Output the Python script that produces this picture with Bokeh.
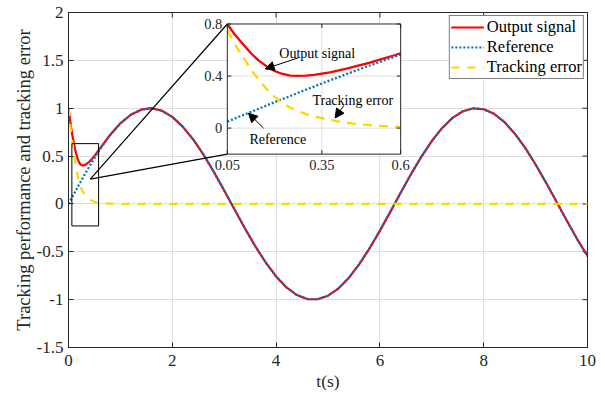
import math
from bokeh.plotting import figure
from bokeh.models import Range1d, FixedTicker, Arrow, NormalHead
from bokeh.core.properties import value
from bokeh.embed import file_html
from bokeh.resources import INLINE

# ---------------- data ----------------
T = [0, 0.025, 0.05, 0.075, 0.1, 0.125, 0.15, 0.175, 0.2, 0.225, 0.25, 0.275, 0.3,
     0.325, 0.35, 0.375, 0.4, 0.425, 0.45, 0.475, 0.5, 0.525, 0.55, 0.575, 0.6,
     0.8, 1.0, 1.2, 1.4, 1.6, 1.8, 2.0, 2.2, 2.4, 2.6, 2.8, 3.0, 3.2, 3.4, 3.6, 3.8,
     4.0, 4.2, 4.4, 4.6, 4.8, 5.0, 5.2, 5.4, 5.6, 5.8, 6.0, 6.2, 6.4, 6.6, 6.8, 7.0,
     7.2, 7.4, 7.6, 7.8, 8.0, 8.2, 8.4, 8.6, 8.8, 9.0, 9.2, 9.4, 9.6, 9.8, 10.0]

REFERENCE = [0.000, 0.025, 0.050, 0.075, 0.100, 0.125, 0.149, 0.174, 0.199, 0.223, 0.247,
             0.272, 0.296, 0.319, 0.343, 0.366, 0.389, 0.412, 0.435, 0.457, 0.479, 0.501,
             0.523, 0.544, 0.565,
             0.717, 0.841, 0.932, 0.985, 1.000, 0.974, 0.909, 0.808, 0.676, 0.516, 0.335,
             0.141, -0.058, -0.256, -0.443, -0.612, -0.757, -0.872, -0.952, -0.994, -0.996,
             -0.959, -0.884, -0.773, -0.631, -0.465, -0.279, -0.083, 0.117, 0.312, 0.494,
             0.657, 0.794, 0.899, 0.968, 0.999, 0.989, 0.941, 0.855, 0.734, 0.585, 0.412,
             0.223, 0.025, -0.174, -0.367, -0.544]

OUTPUT = [1.000, 0.895, 0.800, 0.715, 0.645, 0.575, 0.519, 0.474, 0.439, 0.416, 0.404,
          0.402, 0.404, 0.409, 0.419, 0.429, 0.441, 0.455, 0.470, 0.486, 0.502, 0.520,
          0.538, 0.556, 0.575,
          0.720, 0.842, 0.932, 0.985, 1.000, 0.974, 0.909, 0.808, 0.676, 0.516, 0.335,
          0.141, -0.058, -0.256, -0.443, -0.612, -0.757, -0.872, -0.952, -0.994, -0.996,
          -0.959, -0.884, -0.773, -0.631, -0.465, -0.279, -0.083, 0.117, 0.312, 0.494,
          0.657, 0.794, 0.899, 0.968, 0.999, 0.989, 0.941, 0.855, 0.734, 0.585, 0.412,
          0.223, 0.025, -0.174, -0.367, -0.544]

ERROR = [1.000, 0.870, 0.750, 0.640, 0.545, 0.450, 0.370, 0.300, 0.240, 0.193, 0.157,
         0.130, 0.108, 0.090, 0.076, 0.063, 0.052, 0.043, 0.035, 0.029, 0.023, 0.019,
         0.015, 0.012, 0.010,
         0.003, 0.001, 0.0, 0.0, 0.0, 0.0, 0.0, 0.0, 0.0, 0.0, 0.0, 0.0, 0.0, 0.0, 0.0,
         0.0, 0.0, 0.0, 0.0, 0.0, 0.0, 0.0, 0.0, 0.0, 0.0, 0.0, 0.0, 0.0, 0.0, 0.0, 0.0,
         0.0, 0.0, 0.0, 0.0, 0.0, 0.0, 0.0, 0.0, 0.0, 0.0, 0.0, 0.0, 0.0, 0.0, 0.0, 0.0]

assert len(T) == len(REFERENCE) == len(OUTPUT) == len(ERROR)

SERIES_NAMES = ["Output signal", "Reference", "Tracking error"]
X_TICKS = [0, 2, 4, 6, 8, 10]
X_TICK_LABELS = ["0", "2", "4", "6", "8", "10"]
Y_TICKS = [-1.5, -1, -0.5, 0, 0.5, 1, 1.5, 2]
Y_TICK_LABELS = ["-1.5", "-1", "-0.5", "0", "0.5", "1", "1.5", "2"]
X_LABEL = "t(s)"
Y_LABEL = "Tracking performance and tracking error"

# inset (zoomed) view
INSET_X = [0.05, 0.6]
INSET_Y = [-0.2, 0.8]
INSET_X_TICKS = [0.05, 0.35, 0.6]
INSET_X_TICK_LABELS = ["0.05", "0.35", "0.6"]
INSET_Y_TICKS = [0, 0.4, 0.8]
INSET_Y_TICK_LABELS = ["0", "0.4", "0.8"]
INSET_X_GRID = [0.35]
INSET_Y_GRID = [0, 0.4]

# inset annotations (inset coordinates)
NOTE_TEXT = ["Output signal", "Tracking error", "Reference"]
NOTE_X = [0.215, 0.32, 0.12]
NOTE_Y = [0.575, 0.215, -0.09]
ARROW_X0 = [0.275, 0.42, 0.165]
ARROW_Y0 = [0.54, 0.175, 0.0]
ARROW_X1 = [0.17, 0.392, 0.117]
ARROW_Y1 = [0.455, 0.078, 0.115]

# ---------------- layout (main-axis coordinates) ----------------
INSET_BOX_X = [3.06, 6.40]    # where the inset sits on the main axes
INSET_BOX_Y = [0.52, 1.88]
ZOOM_RECT_X = [0.065, 0.58]
ZOOM_RECT_Y = [-0.23, 0.63]
ZOOM_ANCHOR = (0.42, 0.26)

FONT = "Liberation Serif"
TXT = "#262626"
GRID = "#dfdfdf"
RED = "#ff0000"
BLUE = "#0072bd"
GOLD = "#ffd700"

XR = (0, 10)
YR = (-1.5, 2)

p = figure(width=597, height=396, x_range=Range1d(*XR), y_range=Range1d(*YR),
           output_backend="svg", toolbar_location=None,
           min_border_left=68, min_border_right=10, min_border_top=12, min_border_bottom=49)
p.background_fill_color = "white"
p.border_fill_color = "white"
p.outline_line_color = TXT
p.outline_line_width = 1

# extra ranges so that inset data map into the inset box
def extra_range(a, b, A, B, lo, hi):
    s = (b - a) / (B - A)
    return Range1d(a + (lo - A) * s, a + (hi - A) * s)

p.extra_x_ranges = {"ix": extra_range(INSET_X[0], INSET_X[1], INSET_BOX_X[0], INSET_BOX_X[1], *XR)}
p.extra_y_ranges = {"iy": extra_range(INSET_Y[0], INSET_Y[1], INSET_BOX_Y[0], INSET_BOX_Y[1], *YR)}

# axes
for ax in (p.xaxis[0], p.yaxis[0]):
    ax.major_label_text_font = FONT
    ax.major_label_text_font_size = "17px"
    ax.major_label_text_color = TXT
    ax.axis_label_text_font = FONT
    ax.axis_label_text_font_style = "normal"
    ax.axis_label_text_color = TXT
    ax.major_tick_in = 5
    ax.major_tick_out = 0
    ax.minor_tick_line_color = None
    ax.axis_line_color = TXT
    ax.major_tick_line_color = TXT

p.xaxis.axis_label_text_font_size = "17.5px"
p.yaxis.axis_label_text_font_size = "18.5px"
p.xaxis.ticker = FixedTicker(ticks=X_TICKS)
p.xaxis.major_label_overrides = {t: s for t, s in zip(X_TICKS, X_TICK_LABELS)}
p.yaxis.ticker = FixedTicker(ticks=Y_TICKS)
p.yaxis.major_label_overrides = {t: s for t, s in zip(Y_TICKS, Y_TICK_LABELS)}
p.xaxis.axis_label = X_LABEL
p.yaxis.axis_label = Y_LABEL
p.xaxis.major_label_standoff = 7
p.yaxis.major_label_standoff = 5
p.xaxis.axis_label_standoff = 2
p.yaxis.axis_label_standoff = 0

p.xgrid.ticker = FixedTicker(ticks=X_TICKS)
p.ygrid.ticker = FixedTicker(ticks=Y_TICKS)
p.grid.grid_line_color = GRID
p.grid.grid_line_width = 1

# mirrored inward ticks on the top and right edges
p.ray(x=X_TICKS, y=[YR[1]] * len(X_TICKS), length=5, length_units="screen",
      angle=-math.pi / 2, line_color=TXT, line_width=1)
p.ray(x=[XR[1]] * len(Y_TICKS), y=Y_TICKS, length=5, length_units="screen",
      angle=math.pi, line_color=TXT, line_width=1)

# main curves
p.line(T, OUTPUT, line_color=RED, line_width=2.2, legend_label=SERIES_NAMES[0])
p.line(T, REFERENCE, line_color=BLUE, line_width=2.2, line_dash="2 2", legend_label=SERIES_NAMES[1])
p.line(T, ERROR, line_color=GOLD, line_width=2.2, line_dash="8 8", legend_label=SERIES_NAMES[2])

# zoom rectangle and connector lines
p.quad(left=[ZOOM_RECT_X[0]], right=[ZOOM_RECT_X[1]], bottom=[ZOOM_RECT_Y[0]], top=[ZOOM_RECT_Y[1]],
       fill_alpha=0, line_color="black", line_width=1)
p.segment(x0=[ZOOM_ANCHOR[0], ZOOM_ANCHOR[0]], y0=[ZOOM_ANCHOR[1], ZOOM_ANCHOR[1]],
          x1=[INSET_BOX_X[0], INSET_BOX_X[0]], y1=[INSET_BOX_Y[1], INSET_BOX_Y[0]],
          line_color="black", line_width=1.2)

# ---------------- inset ----------------
IR = dict(x_range_name="ix", y_range_name="iy")
p.quad(left=[INSET_X[0]], right=[INSET_X[1]], bottom=[INSET_Y[0]], top=[INSET_Y[1]],
       fill_color="white", line_color=None, **IR)
p.segment(x0=INSET_X_GRID, x1=INSET_X_GRID, y0=[INSET_Y[0]] * len(INSET_X_GRID),
          y1=[INSET_Y[1]] * len(INSET_X_GRID), line_color=GRID, line_width=1, **IR)
p.segment(x0=[INSET_X[0]] * len(INSET_Y_GRID), x1=[INSET_X[1]] * len(INSET_Y_GRID),
          y0=INSET_Y_GRID, y1=INSET_Y_GRID, line_color=GRID, line_width=1, **IR)

idx = [i for i, t in enumerate(T) if INSET_X[0] - 1e-9 <= t <= INSET_X[1] + 1e-9]
it = [T[i] for i in idx]
p.line(it, [OUTPUT[i] for i in idx], line_color=RED, line_width=2.3, **IR)
p.line(it, [REFERENCE[i] for i in idx], line_color=BLUE, line_width=2.3, line_dash="2 2", **IR)
p.line(it, [ERROR[i] for i in idx], line_color=GOLD, line_width=2.3, line_dash="9 7", **IR)

p.quad(left=[INSET_X[0]], right=[INSET_X[1]], bottom=[INSET_Y[0]], top=[INSET_Y[1]],
       fill_alpha=0, line_color=TXT, line_width=1, **IR)

nx, ny = len(INSET_X_TICKS), len(INSET_Y_TICKS)
p.ray(x=INSET_X_TICKS, y=[INSET_Y[0]] * nx, length=4, length_units="screen", angle=math.pi / 2,
      line_color=TXT, line_width=1, **IR)
p.ray(x=INSET_X_TICKS, y=[INSET_Y[1]] * nx, length=4, length_units="screen", angle=-math.pi / 2,
      line_color=TXT, line_width=1, **IR)
p.ray(x=[INSET_X[0]] * ny, y=INSET_Y_TICKS, length=4, length_units="screen", angle=0,
      line_color=TXT, line_width=1, **IR)
p.ray(x=[INSET_X[1]] * ny, y=INSET_Y_TICKS, length=4, length_units="screen", angle=math.pi,
      line_color=TXT, line_width=1, **IR)

p.text(x=INSET_X_TICKS, y=[INSET_Y[0]] * nx, text=INSET_X_TICK_LABELS, y_offset=6,
       text_align="center", text_baseline="top", text_font=value(FONT),
       text_font_size=value("14.5px"), text_color=TXT, **IR)
p.text(x=[INSET_X[0]] * ny, y=INSET_Y_TICKS, text=INSET_Y_TICK_LABELS, x_offset=-5,
       text_align="right", text_baseline="middle", text_font=value(FONT),
       text_font_size=value("14.5px"), text_color=TXT, **IR)

p.text(x=NOTE_X, y=NOTE_Y, text=NOTE_TEXT, text_align="left", text_baseline="middle",
       text_font=value(FONT), text_font_size=value("14px"), text_color="black", **IR)
for x0, y0, x1, y1 in zip(ARROW_X0, ARROW_Y0, ARROW_X1, ARROW_Y1):
    p.add_layout(Arrow(x_start=x0, y_start=y0, x_end=x1, y_end=y1, line_color="black",
                       line_width=1,
                       end=NormalHead(size=9, fill_color="black", line_color="black", line_width=1),
                       **IR))

# legend
lg = p.legend[0]
lg.location = "top_right"
lg.margin = 3
lg.padding = 1
lg.spacing = 0
lg.glyph_width = 33
lg.glyph_height = 18
lg.label_height = 18
lg.label_standoff = 3
lg.label_text_font = FONT
lg.label_text_font_size = "16.5px"
lg.label_text_color = "black"
lg.border_line_color = "black"
lg.border_line_width = 1
lg.background_fill_alpha = 1

open("out.html", "w").write(file_html(p, INLINE))
